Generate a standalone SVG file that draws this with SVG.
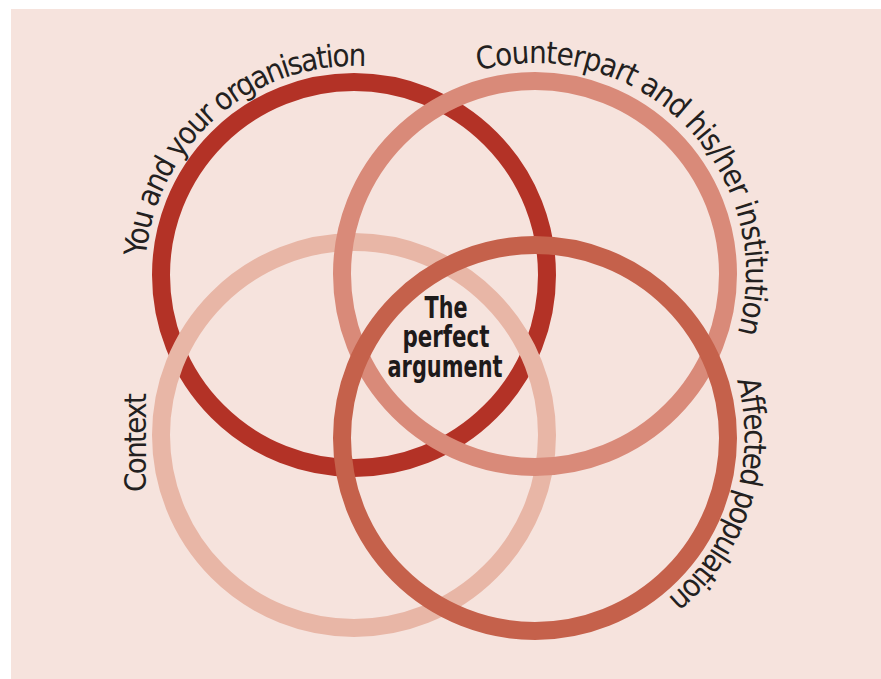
<svg xmlns="http://www.w3.org/2000/svg" width="881" height="679" viewBox="0 0 881 679">
  <style>
    .ring { fill: none; stroke-width: 18; }
    .lbl { font-family: "Liberation Sans Narrow", "Arial Narrow", "DejaVu Sans Condensed", "Liberation Sans", sans-serif; font-stretch: condensed; font-size: 31px; fill: #231f20; }
    .ctr { font-family: "Liberation Sans Narrow", "Arial Narrow", "DejaVu Sans Condensed", "Liberation Sans", sans-serif; font-stretch: condensed; font-weight: bold; font-size: 30px; fill: #1e1a1a; text-anchor: middle; }
  </style>
  <defs>
    <path id="p1" d="M145.8,256.8 A209,209 0 0 1 368.6,66.5"/>
    <path id="p2" d="M478.6,70.7 A211,211 0 0 1 737.3,333.9"/>
    <path id="p4" d="M736.9,380.1 A209,209 0 0 1 668,598"/>
  </defs>
  <rect x="11" y="9" width="870" height="670" fill="#F6E3DD"/>
  <g id="you-and-your-organisation">
    <circle class="ring" cx="354" cy="275" r="193" stroke="#B33226"/>
    <text class="lbl"><textPath href="#p1" textLength="322">You and your organisation</textPath></text>
  </g>
  <g id="context">
    <circle class="ring" cx="354" cy="435" r="193" stroke="#E8B6A6"/>
    <text class="lbl" x="0" y="0" text-anchor="middle" textLength="99" transform="translate(146,442.5) rotate(-90)">Context</text>
  </g>
  <g id="counterpart">
    <circle class="ring" cx="535" cy="274" r="193" stroke="#D98A79"/>
    <text class="lbl"><textPath href="#p2" textLength="448">Counterpart and his/her institution</textPath></text>
  </g>
  <g id="affected-population">
    <circle class="ring" cx="535" cy="438" r="193" stroke="#C5614B"/>
    <text class="lbl"><textPath href="#p4" textLength="242">Affected population</textPath></text>
  </g>
  <g id="the-perfect-argument">
    <text class="ctr" x="446" y="318" textLength="43" lengthAdjust="spacingAndGlyphs">The</text>
    <text class="ctr" x="446" y="347" textLength="87" lengthAdjust="spacingAndGlyphs">perfect</text>
    <text class="ctr" x="445" y="377" textLength="115" lengthAdjust="spacingAndGlyphs">argument</text>
  </g>
  <g id="connectors"></g>
</svg>
